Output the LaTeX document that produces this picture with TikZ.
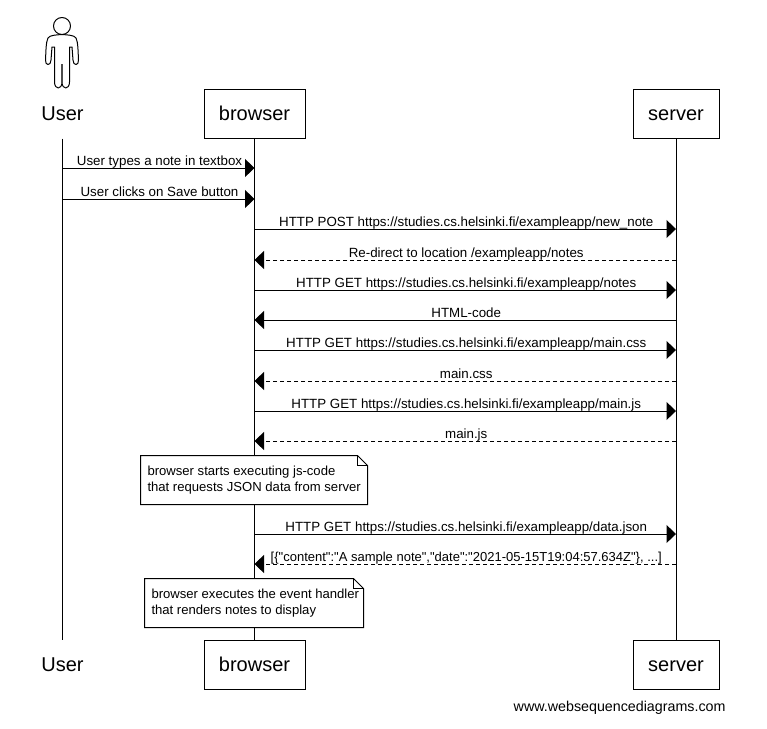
\documentclass[tikz,border=0pt]{standalone}
\usepackage{fontspec}
\setmainfont[Ligatures=NoCommon]{Liberation Sans}
\newfontfamily\msgfont[Ligatures=NoCommon]{Liberation Sans}
\usetikzlibrary{arrows.meta, calc}

\begin{document}
\begin{tikzpicture}[
    x=1pt, y=-1pt,
    line width=1pt,
    actor/.style={draw, rectangle, fill=white, inner sep=0pt, minimum height=49pt, text height=16.5pt, text depth=2.5pt, font=\fontsize{20}{24}\selectfont},
    plainactor/.style={inner sep=0pt, minimum height=49pt, minimum width=60pt, text height=16.5pt, text depth=2.5pt, font=\fontsize{20}{24}\selectfont},
    lifeline/.style={draw=black},
    arr/.style={-{Triangle[length=9.5pt, width=18pt]}},
    back/.style={arr, dash pattern=on 4pt off 3pt},
    msg/.style={midway, above=2.2pt, inner sep=0pt, text depth=0pt, xshift=1pt, font=\msgfont\fontsize{13.33}{15}\selectfont},
    note/.style={inner sep=0pt, align=left, anchor=west, font=\fontsize{13.1}{16}\selectfont},
    notepaper/.style={draw, fill=white, line join=miter}
]
    \useasboundingbox (0,0) rectangle (767,728);

    % participants
    \node[plainactor] (userTop) at (62.5,113.5) {User};
    \node[actor, minimum width=101pt] (browserTop) at (254.5,113.5) {browser};
    \node[actor, minimum width=86pt] (serverTop) at (676,113.5) {server};
    \node[plainactor] (userBot) at (62.5,664.5) {User};
    \node[actor, minimum width=101pt] (browserBot) at (254.5,664.5) {browser};
    \node[actor, minimum width=86pt] (serverBot) at (676,664.5) {server};

    % stick figure
    \draw[line join=round] (62,26) circle (8.5pt);
    \draw[line join=round] (62,34.5) .. controls (56,35) and (50,35) .. (48,38)
        .. controls (46,42) and (46,50) .. (45.5,60)
        .. controls (45,66) and (51,66) .. (51,60)
        -- (52,47) -- (54.5,47) -- (54.5,82)
        .. controls (54.5,90) and (62,90) .. (62,82)
        .. controls (62,90) and (69.5,90) .. (69.5,82)
        -- (69.5,47) -- (72,47) -- (73,60)
        .. controls (73,66) and (79,66) .. (78.5,60)
        .. controls (78,50) and (78,42) .. (76,38)
        .. controls (74,35) and (68,35) .. (62,34.5);
    \draw[line width=2pt, black!70] (62,64) -- (62,84);

    \draw[lifeline] (userTop) -- (userBot);
    \draw[lifeline] (browserTop) -- (browserBot);
    \draw[lifeline] (serverTop) -- (serverBot);

    \foreach \i/\yy in {1/168, 2/199, 3/229, 4/260, 5/290, 6/320, 7/350, 8/381, 9/411, 10/441, 11/534, 12/564} {
        \coordinate (u\i) at (62.5,\yy);
        \coordinate (b\i) at (254.5,\yy);
        \coordinate (s\i) at (676,\yy);
    }

    \draw[arr] (u1) -- node[msg] {User types a note in textbox} (b1);
    \draw[arr] (u2) -- node[msg] {User clicks on Save button} (b2);
    \draw[arr] (b3) -- node[msg] {HTTP POST https://studies.cs.helsinki.fi/exampleapp/new\_note} (s3);
    \draw[back] (s4) -- node[msg] {Re-direct to location /exampleapp/notes} (b4);
    \draw[arr] (b5) -- node[msg] {HTTP GET https://studies.cs.helsinki.fi/exampleapp/notes} (s5);
    \draw[arr] (s6) -- node[msg] {HTML-code} (b6);
    \draw[arr] (b7) -- node[msg] {HTTP GET https://studies.cs.helsinki.fi/exampleapp/main.css} (s7);
    \draw[back] (s8) -- node[msg] {main.css} (b8);
    \draw[arr] (b9) -- node[msg] {HTTP GET https://studies.cs.helsinki.fi/exampleapp/main.js} (s9);
    \draw[back] (s10) -- node[msg] {main.js} (b10);
    \draw[arr] (b11) -- node[msg] {HTTP GET https://studies.cs.helsinki.fi/exampleapp/data.json} (s11);
    \draw[back] (s12) -- node[msg, font=\msgfont\fontsize{13}{15}\selectfont] {[\{"content":"A sample note","date":"2021-05-15T19:04:57.634Z"\}, ...]} (b12);

    % notes
    \draw[notepaper] (140.5,455.5) -- (357.5,455.5) -- (367.5,465.5) -- (367.5,504.5) -- (140.5,504.5) -- cycle;
    \draw (357.5,455.5) -- (357.5,465.5) -- (367.5,465.5);
    \node[note] (noteStart) at (147,480) {browser starts executing js-code\\that requests JSON data from server};

    \draw[notepaper] (144.5,578.5) -- (353.5,578.5) -- (363.5,588.5) -- (363.5,627.5) -- (144.5,627.5) -- cycle;
    \draw (353.5,578.5) -- (353.5,588.5) -- (363.5,588.5);
    \node[note] (noteRender) at (151,603) {browser executes the event handler\\that renders notes to display};

    \node[inner sep=0pt, anchor=east, font=\fontsize{14.27}{17}\selectfont] (credit) at (726,708) {www.websequencediagrams.com};
\end{tikzpicture}
\end{document}
